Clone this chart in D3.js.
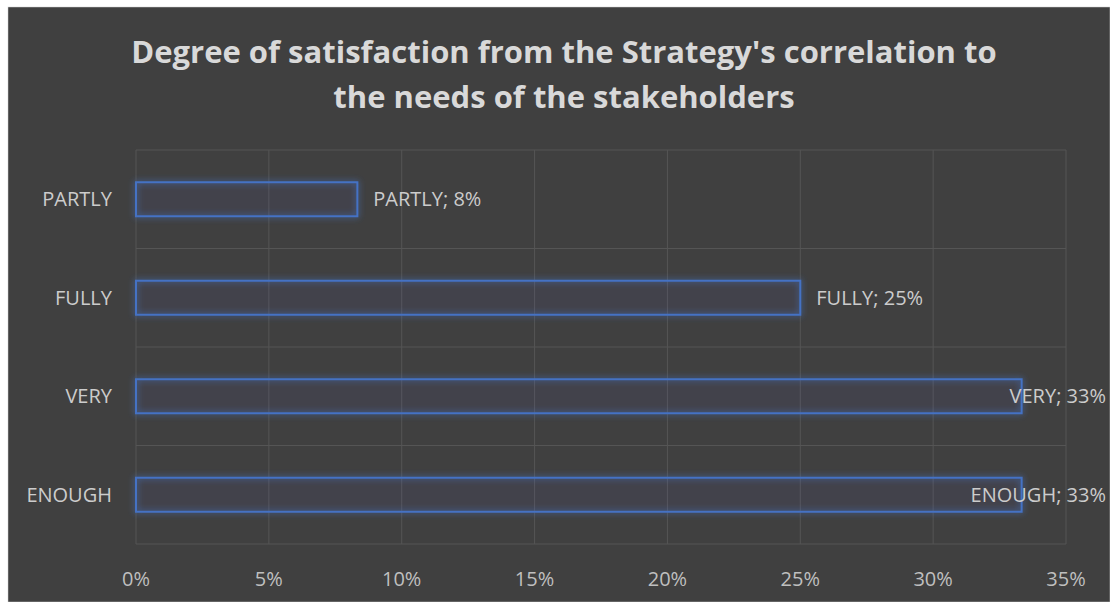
<!DOCTYPE html>
<html>
<head>
<meta charset="utf-8">
<script src="https://cdn.jsdelivr.net/npm/d3@7"></script>
<style>
  body { margin: 0; background: #ffffff; }
  svg { display: block; }
</style>
</head>
<body>
<div id="chart"></div>
<script>
'use strict';

// Data
const categories = ['PARTLY', 'FULLY', 'VERY', 'ENOUGH'];
const values = [8.33, 25, 33.33, 33.33];
const labelValues = ['8%', '25%', '33%', '33%'];
const xTicks = [0, 5, 10, 15, 20, 25, 30, 35];
const titleLines = ["Degree of satisfaction from the Strategy's correlation to", 'the needs of the stakeholders'];

// Config
const svgW = 1110;
const svgH = 602;
const margin = {top: 150, right: 44, bottom: 58, left: 136};
const font = '"Open Sans", "Noto Sans", sans-serif';

const svg = d3.select('#chart').append('svg')
    .attr('width', svgW)
    .attr('height', svgH);

// Glow filter for bar outlines
const defs = svg.append('defs');
const glow = defs.append('filter').attr('id', 'glow')
    .attr('x', '-10%').attr('y', '-50%').attr('width', '120%').attr('height', '200%');
glow.append('feGaussianBlur').attr('in', 'SourceGraphic').attr('stdDeviation', 3).attr('result', 'blur');
const merge = glow.append('feMerge');
merge.append('feMergeNode').attr('in', 'blur');
merge.append('feMergeNode').attr('in', 'SourceGraphic');

// Background
svg.append('rect')
    .attr('x', 8).attr('y', 7)
    .attr('width', svgW - 8).attr('height', svgH - 7)
    .attr('fill', '#404040')
    .attr('stroke', '#d0d0d0').attr('stroke-width', 0.5);

// Scales
const x = d3.scaleLinear().domain([0, 35]).range([margin.left, svgW - margin.right]);
const y = d3.scaleBand().domain(categories).range([margin.top, svgH - margin.bottom]).paddingInner(0.655).paddingOuter(0.3275);
const yFull = d3.scaleBand().domain(categories).range([margin.top, svgH - margin.bottom]);

// Gridlines
const grid = svg.append('g').attr('class', 'grid');
grid.selectAll('.vline')
    .data(xTicks)
    .join('line')
    .attr('class', 'vline')
    .attr('x1', d => x(d)).attr('x2', d => x(d))
    .attr('y1', margin.top).attr('y2', svgH - margin.bottom)
    .attr('stroke', '#555555').attr('stroke-width', 1);
const hLines = categories.map(c => yFull(c)).concat([svgH - margin.bottom]);
grid.selectAll('.hline')
    .data(hLines)
    .join('line')
    .attr('class', 'hline')
    .attr('x1', margin.left).attr('x2', x(35))
    .attr('y1', d => d).attr('y2', d => d)
    .attr('stroke', '#555555').attr('stroke-width', 1);

// Title
svg.append('text')
    .attr('text-anchor', 'middle')
    .attr('fill', '#d9d9d9')
    .style('font-family', font)
    .style('font-size', '31px')
    .style('font-weight', 'bold')
    .selectAll('tspan')
    .data(titleLines)
    .join('tspan')
    .attr('x', 564)
    .attr('y', (d, i) => 63 + i * 45)
    .text(d => d);

// Bars
svg.append('g').attr('class', 'bars')
    .selectAll('rect')
    .data(categories)
    .join('rect')
    .attr('x', x(0))
    .attr('y', d => y(d))
    .attr('width', (d, i) => x(values[i]) - x(0))
    .attr('height', y.bandwidth())
    .attr('fill', 'rgba(68,114,196,0.04)')
    .attr('stroke', '#4472c4')
    .attr('stroke-width', 2)
    .attr('filter', 'url(#glow)');

// Category labels
svg.append('g').attr('class', 'yLabels')
    .selectAll('text')
    .data(categories)
    .join('text')
    .attr('x', 112)
    .attr('y', d => y(d) + y.bandwidth() / 2)
    .attr('dy', '0.35em')
    .attr('text-anchor', 'end')
    .attr('fill', '#cccccc')
    .style('font-family', font)
    .style('font-size', '20px')
    .text(d => d);

// Data labels
svg.append('g').attr('class', 'dataLabels')
    .selectAll('text')
    .data(categories)
    .join('text')
    .attr('y', d => y(d) + y.bandwidth() / 2)
    .attr('dy', '0.35em')
    .attr('fill', '#cccccc')
    .style('font-family', font)
    .style('font-size', '20px')
    .text((d, i) => `${d}; ${labelValues[i]}`)
    .each(function(d, i) {
        const w = this.getComputedTextLength();
        const px = Math.min(x(values[i]) + 16, svgW - 4 - w);
        d3.select(this).attr('x', px);
    });

// X tick labels
svg.append('g').attr('class', 'xLabels')
    .selectAll('text')
    .data(xTicks)
    .join('text')
    .attr('x', d => x(d))
    .attr('y', 586)
    .attr('text-anchor', 'middle')
    .attr('fill', '#bfbfbf')
    .style('font-family', font)
    .style('font-size', '20px')
    .text(d => d + '%');
</script>
</body>
</html>
